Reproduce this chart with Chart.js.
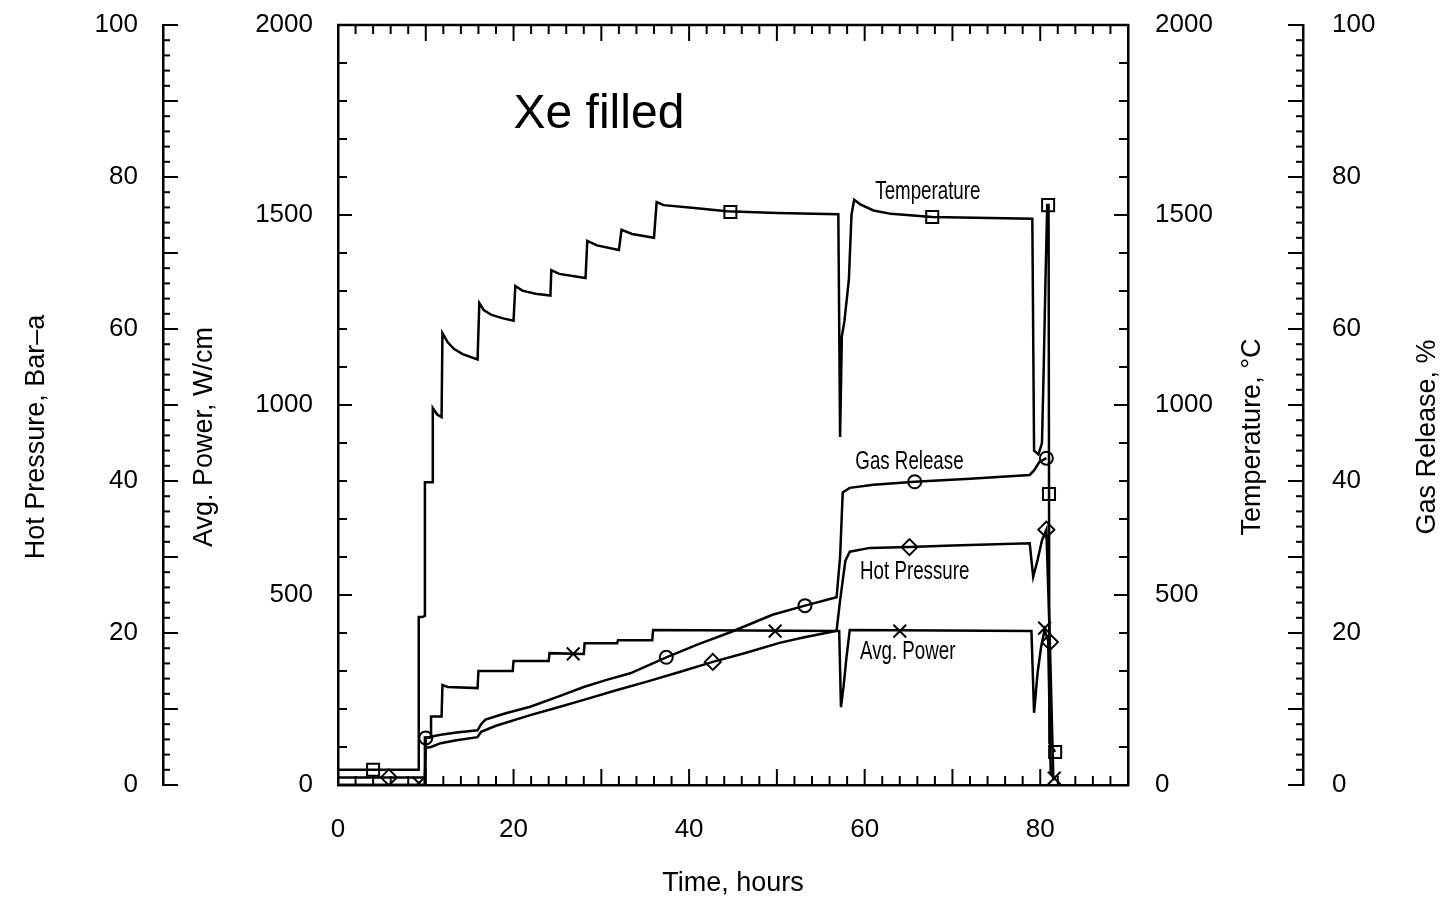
<!DOCTYPE html>
<html>
<head>
<meta charset="utf-8">
<script src="https://cdn.jsdelivr.net/npm/chart.js@4.4.1/dist/chart.umd.min.js"></script>
<style>
  body { margin: 0; background: #fff; }
  canvas { display: block; }
</style>
</head>
<body>
<canvas id="chart" width="1449" height="901"></canvas>
<script>
// values
const tempHours = [0, 9.2, 9.2, 9.6, 9.9, 9.9, 10.8, 10.8, 11.3, 11.8, 11.9, 12.5, 13.2, 14.2, 15.9,
  16.1, 16.6, 17.5, 18.8, 20.0, 20.2, 21.0, 22.5, 24.2, 24.3, 25.2, 28.2, 28.4, 29.5, 32.0,
  32.3, 33.5, 36.0, 36.3, 37.1, 40.9, 44.3, 50.0, 57.0, 57.2, 57.4, 57.7, 58.2, 58.5, 58.8,
  59.5, 61.0, 63.0, 67.7, 79.1, 79.3, 79.8, 80.2, 80.4, 80.6, 80.8, 80.95, 81.05, 81.7];
const tempC = [40, 40, 442, 442, 445, 797, 797, 992, 975, 968, 1189, 1165, 1148, 1134, 1120,
  1268, 1250, 1237, 1228, 1222, 1313, 1301, 1293, 1288, 1355, 1345, 1334, 1432, 1420, 1408,
  1461, 1450, 1440, 1534, 1526, 1518, 1510, 1505, 1502, 916, 1180, 1222, 1330, 1500, 1540,
  1528, 1512, 1503, 1495, 1490, 880, 870, 900, 1100, 1330, 1526, 1526, 110, 87];

const powerHours = [0, 9.8, 9.9, 10.6, 10.6, 11.8, 11.9, 12.5, 15.9, 16.0, 19.9, 20.0, 24.0, 24.1,
  28.0, 28.1, 31.8, 31.9, 35.8, 35.9, 57.1, 57.3, 57.6, 57.9, 58.3, 79.0, 79.3, 79.7, 80.1,
  80.5, 80.9, 81.2, 81.7];
const powerWcm = [0, 0, 125, 125, 180, 180, 263, 258, 255, 300, 300, 326, 326, 347,
  345, 373, 373, 381, 381, 408, 405, 205, 260, 330, 408, 405, 190, 295, 363,
  408, 380, 30, 15];

const pressureHours = [0, 9.9, 10.0, 10.6, 11.7, 13.5, 15.9, 16.3, 18.0, 21.9, 25.0, 28.0, 31.5,
  35.2, 39.0, 42.7, 46.5, 50.3, 53.0, 56.0, 56.8, 57.2, 57.8, 58.3, 60.6, 65.1, 70.0, 78.8,
  79.2, 79.7, 80.2, 80.7, 81.1, 81.5];
const pressureBar = [1.0, 1.0, 4.9, 5.0, 5.5, 5.9, 6.3, 7.0, 7.8, 9.2, 10.2, 11.2, 12.4,
  13.6, 14.9, 16.2, 17.4, 18.7, 19.4, 20.1, 20.3, 24.3, 29.5, 30.7, 31.2, 31.3, 31.5, 31.8,
  27.4, 29.6, 32.2, 33.6, 18.8, 0.6];

const gasHours = [0, 9.9, 10.0, 11.7, 13.5, 15.9, 16.3, 16.8, 19.0, 21.9, 25.0, 28.0, 30.5, 33.3,
  37.4, 41.0, 44.7, 49.5, 53.2, 56.8, 57.2, 57.5, 58.3, 61.0, 65.7, 72.0, 78.8, 79.3, 79.9, 80.7];
const gasPct = [0, 0, 6.2, 6.6, 6.9, 7.2, 8.0, 8.6, 9.4, 10.3, 11.6, 12.9, 13.8, 14.7,
  16.8, 18.5, 20.1, 22.4, 23.6, 24.7, 30.0, 38.5, 39.1, 39.5, 39.9, 40.3, 40.8, 41.4, 42.5, 43.0];

// symbols placed along each curve
const tempMarkHours = [4.0, 44.7, 67.7, 80.9, 81.0, 81.7];
const tempMarkC = [40, 1508, 1495, 1526, 766, 87];
const powerMarkHours = [9.2, 26.8, 49.8, 64.0, 80.5, 81.6];
const powerMarkWcm = [5, 345, 405, 405, 413, 18];
const pressureMarkHours = [5.8, 42.7, 65.1, 80.7, 81.1];
const pressureMarkBar = [1.0, 16.2, 31.3, 33.6, 18.8];
const gasMarkHours = [10.0, 37.4, 53.2, 65.7, 80.7];
const gasMarkPct = [6.2, 16.8, 23.6, 39.9, 43.0];

const FONT = '"Liberation Sans", Arial, sans-serif';
const INK = '#000';
const NONE = 'rgba(0,0,0,0)';

const pts = (xs, ys) => xs.map((x, i) => ({x: x, y: ys[i]}));

function curve(xs, ys, axis) {
    return {
        data: pts(xs, ys), yAxisID: axis, borderColor: INK, borderWidth: 2.5,
        pointRadius: 0, tension: 0, fill: false
    };
}

function marks(xs, ys, axis, style, r) {
    return {
        data: pts(xs, ys), yAxisID: axis, showLine: false, pointStyle: style,
        pointRadius: r, pointBorderColor: INK, pointBackgroundColor: NONE,
        pointBorderWidth: 2
    };
}

// invisible tick length pushes the labels away from the axis line
function yAxis(pos, weight, max, step, gap, width) {
    return {
        type: 'linear', position: pos, weight: weight, min: 0, max: max,
        ticks: {stepSize: step, padding: 0, color: INK, font: {family: FONT, size: 26},
                callback: (v) => String(v)},
        grid: {display: true, drawOnChartArea: false, drawTicks: true, tickLength: gap,
               color: NONE, tickColor: NONE},
        border: {display: true, color: INK, width: 2.5},
        afterFit: (s) => { s.width = width; }
    };
}

// tick marks, top edge of the frame, axis titles and curve labels
const decorations = {
    id: 'decorations',
    afterDraw(chart) {
        const {ctx, chartArea: a, scales} = chart;
        const line = (x1, y1, x2, y2) => {
            ctx.beginPath(); ctx.moveTo(x1, y1); ctx.lineTo(x2, y2); ctx.stroke();
        };
        ctx.save();
        ctx.strokeStyle = INK;
        ctx.lineWidth = 2.5;
        line(a.left - 1, a.top, a.right + 1, a.top);
        ctx.lineWidth = 2;

        for (let h = 0; h <= 90; h += 2) {
            const x = scales.x.getPixelForValue(h);
            const len = h % 10 === 0 ? 16 : 9;
            line(x, a.bottom, x, a.bottom - len);
            line(x, a.top, x, a.top + len);
        }
        for (let v = 0; v <= 2000; v += 100) {
            const len = v % 500 === 0 ? 14 : 9;
            const yp = scales.yP.getPixelForValue(v);
            line(scales.yP.right, yp, scales.yP.right + len, yp);
            const yt = scales.yT.getPixelForValue(v);
            line(scales.yT.left, yt, scales.yT.left - len, yt);
        }
        for (let v = 0; v <= 100; v += 2) {
            const len = v % 10 === 0 ? 15 : 7;
            const yh = scales.yH.getPixelForValue(v);
            line(scales.yH.right, yh, scales.yH.right + len, yh);
            const yg = scales.yG.getPixelForValue(v);
            line(scales.yG.left, yg, scales.yG.left - len, yg);
        }

        ctx.fillStyle = INK;
        ctx.textAlign = 'center';
        ctx.textBaseline = 'middle';
        ctx.font = '27px ' + FONT;
        const midY = (a.top + a.bottom) / 2 + 32;
        const vtitle = (text, x) => {
            ctx.save();
            ctx.translate(x, midY);
            ctx.rotate(-Math.PI / 2);
            ctx.fillText(text, 0, 0);
            ctx.restore();
        };
        vtitle('Hot Pressure, Bar\u2013a', scales.yH.left + 37);
        vtitle('Avg. Power, W/cm', scales.yP.left + 42);
        vtitle('Temperature, \u00b0C', scales.yT.left + 125);
        vtitle('Gas Release, %', scales.yG.left + 125);

        const tag = (text, h, v, axis) => {
            ctx.save();
            ctx.translate(scales.x.getPixelForValue(h), scales[axis].getPixelForValue(v));
            ctx.scale(0.72, 1);
            ctx.font = '26px ' + FONT;
            ctx.fillText(text, 0, 0);
            ctx.restore();
        };
        tag('Temperature', 67.2, 1560, 'yT');
        tag('Gas Release', 65.1, 850, 'yP');
        tag('Hot Pressure', 65.7, 561, 'yP');
        tag('Avg. Power', 64.9, 350, 'yP');

        ctx.textAlign = 'left';
        ctx.font = '48px ' + FONT;
        ctx.fillText('Xe filled', scales.x.getPixelForValue(20), scales.yP.getPixelForValue(1765));
        ctx.restore();
    }
};

new Chart(document.getElementById('chart'), {
    type: 'line',
    data: {
        datasets: [
            curve(tempHours, tempC, 'yT'),
            curve(powerHours, powerWcm, 'yP'),
            curve(pressureHours, pressureBar, 'yH'),
            curve(gasHours, gasPct, 'yG'),
            marks(tempMarkHours, tempMarkC, 'yT', 'rect', 8.5),
            marks(powerMarkHours, powerMarkWcm, 'yP', 'crossRot', 9),
            marks(pressureMarkHours, pressureMarkBar, 'yH', 'rectRot', 8),
            marks(gasMarkHours, gasMarkPct, 'yG', 'circle', 6.5)
        ]
    },
    options: {
        responsive: false,
        animation: false,
        layout: {padding: {left: 0, right: 0, top: 25, bottom: 0}},
        plugins: {legend: {display: false}, tooltip: {enabled: false}},
        scales: {
            x: {
                type: 'linear', position: 'bottom', min: 0, max: 90,
                ticks: {stepSize: 20, includeBounds: false, padding: 29, maxRotation: 0,
                        color: INK, font: {family: FONT, size: 26}},
                grid: {display: false, drawTicks: false},
                border: {display: true, color: INK, width: 2.5},
                title: {display: true, text: 'Time, hours', color: INK,
                        font: {family: FONT, size: 27}, padding: {top: 0, bottom: 1}},
                afterFit: (s) => { s.height = 116; }
            },
            yH: yAxis('left', 1, 100, 20, 25, 163),
            yP: yAxis('left', 0, 2000, 500, 25, 175),
            yT: yAxis('right', 0, 2000, 500, 27, 175),
            yG: yAxis('right', 1, 100, 20, 29, 146)
        }
    },
    plugins: [decorations]
});
</script>
</body>
</html>
